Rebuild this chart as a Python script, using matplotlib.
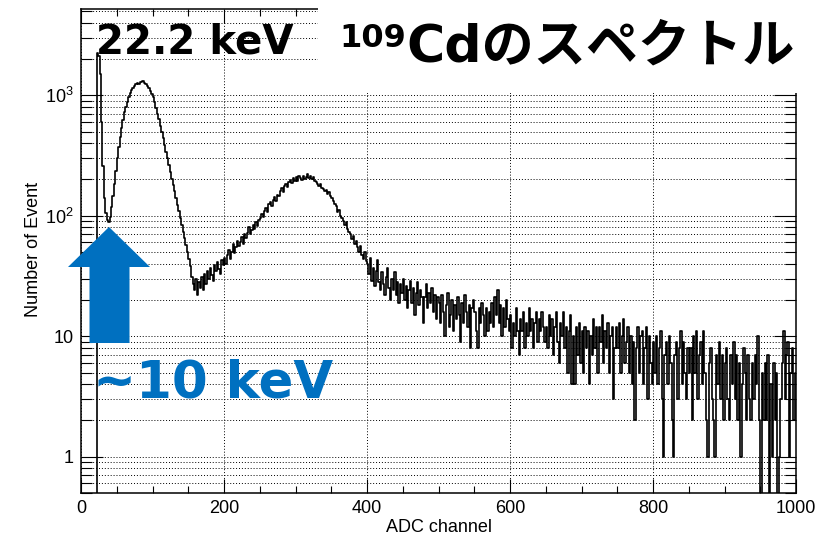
import numpy as np
import matplotlib.pyplot as plt
from matplotlib.ticker import LogLocator, MultipleLocator, FuncFormatter, NullFormatter
from matplotlib.patches import Rectangle, Polygon

plt.rcParams['font.family'] = ['Liberation Sans', 'DejaVu Sans']
plt.rcParams['mathtext.fontset'] = 'custom'
plt.rcParams['mathtext.rm'] = 'Liberation Sans'
plt.rcParams['mathtext.default'] = 'regular'

# 109Cd spectrum, counts per 2-channel bin (ADC 0 - 1000)
bin_width = 2
counts = [
    0, 0, 0, 0, 0, 0, 0, 0, 0, 0, 0, 2250, 2100, 1500, 600, 260, 140, 105, 92, 88, 98, 118, 145, 185, 235,
    300, 370, 450, 530, 620, 720, 800, 880, 960, 1040, 1100, 1150, 1200, 1230, 1270, 1250, 1300, 1280, 1320, 1260, 1240, 1200, 1150, 1080, 1020,
    960, 880, 790, 700, 630, 560, 500, 440, 390, 340, 300, 265, 230, 200, 180, 160, 140, 122, 110, 96, 84, 74, 65, 57, 50,
    44, 38, 31, 27, 24, 30, 22, 28, 25, 31, 24, 33, 27, 35, 30, 37, 32, 29, 39, 35, 41, 36, 33, 43, 39,
    45, 40, 47, 52, 44, 50, 58, 49, 55, 62, 56, 60, 67, 58, 70, 65, 72, 80, 70, 76, 84, 77, 88, 82, 92,
    96, 104, 98, 110, 116, 108, 124, 130, 120, 135, 142, 132, 150, 146, 160, 170, 158, 176, 185, 172, 190, 198, 186, 204, 196,
    208, 195, 212, 204, 198, 215, 202, 210, 220, 205, 212, 200, 208, 196, 190, 184, 178, 182, 170, 166, 160, 164, 152, 156, 146,
    140, 132, 124, 120, 108, 112, 100, 96, 90, 84, 88, 78, 74, 70, 64, 68, 58, 62, 55, 50, 56, 47, 44, 50, 42,
    40, 33, 45, 29, 37, 26, 35, 43, 28, 24, 34, 27, 22, 31, 37, 25, 20, 30, 24, 34, 22, 28, 19, 27, 23,
    30, 20, 26, 17, 24, 29, 19, 25, 15, 23, 28, 18, 24, 21, 13, 21, 27, 17, 23, 19, 25, 16, 22, 14, 21,
    19, 13, 22, 16, 10, 18, 23, 12, 15, 20, 11, 18, 14, 21, 15, 9, 19, 13, 22, 16, 12, 18, 8, 17, 20,
    16, 11, 8, 17, 13, 19, 15, 10, 17, 11, 16, 13, 19, 12, 21, 15, 24, 13, 18, 10, 17, 12, 20, 14, 11,
    15, 8, 13, 10, 17, 11, 7, 14, 11, 16, 8, 13, 10, 17, 11, 14, 8, 13, 16, 9, 14, 11, 16, 12, 9,
    12, 8, 15, 10, 14, 7, 12, 16, 9, 6, 13, 10, 16, 8, 12, 5, 11, 15, 4, 10, 4, 12, 7, 13, 6,
    11, 5, 12, 8, 11, 4, 10, 7, 14, 8, 12, 5, 12, 9, 15, 6, 11, 8, 13, 5, 10, 12, 3, 8, 12,
    8, 13, 5, 10, 14, 6, 9, 12, 5, 10, 4, 9, 2, 8, 12, 5, 10, 11, 4, 8, 12, 3, 10, 6, 4,
    9, 5, 10, 4, 8, 11, 3, 1, 7, 9, 4, 10, 6, 2, 1, 7, 9, 3, 8, 11, 4, 9, 5, 3, 8,
    5, 8, 2, 10, 5, 11, 3, 7, 9, 4, 11, 5, 2, 1, 6, 8, 3, 2, 1, 7, 4, 9, 3, 7, 2,
    6, 8, 3, 2, 7, 4, 9, 3, 7, 2, 6, 1, 4, 8, 5, 2, 7, 3, 2, 6, 3, 7, 4, 10, 2,
    0, 5, 2, 6, 2, 7, 0, 4, 1, 6, 2, 5, 0, 1, 3, 6, 11, 3, 7, 9, 1, 5, 8, 2, 5,
]
counts = np.array(counts, dtype=float)
edges = np.arange(len(counts) + 1) * bin_width

W, H = 834, 536
blue = '#0070C0'


def fx(px):
    return px / W


def fy(py):
    return 1 - py / H


fig = plt.figure(figsize=(W / 100, H / 100), dpi=100)
ax = fig.add_axes([fx(81), fy(493), (796 - 81) / W, (493 - 9) / H])

ax.step(edges, np.append(counts, counts[-1]), where='post', color='black', lw=1.2, zorder=3)
ax.set_yscale('log', nonpositive='clip')
ax.set_xlim(0, 1000)
ax.set_ylim(0.5, 5200)

# ROOT-like axes: inward ticks on all sides, dotted grid
ax.xaxis.set_major_locator(MultipleLocator(200))
ax.xaxis.set_minor_locator(MultipleLocator(50))
ax.yaxis.set_major_locator(LogLocator(base=10))
ax.yaxis.set_minor_locator(LogLocator(base=10, subs=np.arange(2, 10)))
ax.yaxis.set_minor_formatter(NullFormatter())


def ylab(v, pos):
    e = int(round(np.log10(v)))
    if e == 0:
        return '1'
    if e == 1:
        return '10'
    return r'$10^{%d}$' % e


ax.yaxis.set_major_formatter(FuncFormatter(ylab))
ax.tick_params(which='both', direction='in', top=True, right=True, width=0.8, labelsize=13)
ax.tick_params(axis='x', which='major', length=10, pad=5)
ax.tick_params(axis='x', which='minor', length=5)
ax.tick_params(axis='y', which='major', length=16, pad=5)
ax.tick_params(axis='y', which='minor', length=8)
for s in ax.spines.values():
    s.set_linewidth(1.1)

ax.set_axisbelow(True)
ax.grid(True, axis='x', which='major', ls=(0, (1, 2)), color='black', lw=0.7)
ax.grid(True, axis='y', which='both', ls=(0, (1, 2)), color='black', lw=0.7)

ax.set_xlabel('ADC channel', fontsize=13)
ax.xaxis.set_label_coords(0.5, -(519 - 493) / 484)
ax.set_ylabel('Number of Event', fontsize=13)
ax.yaxis.set_label_coords((42 - 81) / 715, (493 - 249.5) / 484)

# white panel behind the title
fig.add_artist(Rectangle((fx(318), fy(93)), 1 - fx(318), 93 / H, transform=fig.transFigure,
                         facecolor='white', edgecolor='none', zorder=5))

# arrow marking the ~10 keV line
arrow = [(109, 227), (150, 267), (129.5, 267), (129.5, 343), (89.5, 343), (89.5, 267), (68, 267)]
fig.add_artist(Polygon([(fx(x), fy(y)) for x, y in arrow], closed=True, transform=fig.transFigure,
                       facecolor=blue, edgecolor='none', zorder=6))

fig.text(fx(96), fy(53), '22.2 keV', fontsize=29, fontweight='bold', family='DejaVu Sans',
         ha='left', va='baseline', zorder=7)
fig.text(fx(339), fy(47), '109', fontsize=23, fontweight='bold', family='DejaVu Sans',
         ha='left', va='baseline', zorder=7)
fig.text(fx(406), fy(62), 'Cdのスペクトル', fontsize=37.5, fontweight='bold',
         family=['DejaVu Sans', 'Noto Sans CJK JP'], ha='left', va='baseline', zorder=7)
fig.text(fx(93), fy(397), '~10 keV', fontsize=37, fontweight='bold', family='DejaVu Sans',
         color=blue, ha='left', va='baseline', zorder=7)

fig.savefig('out.png', dpi=100)
